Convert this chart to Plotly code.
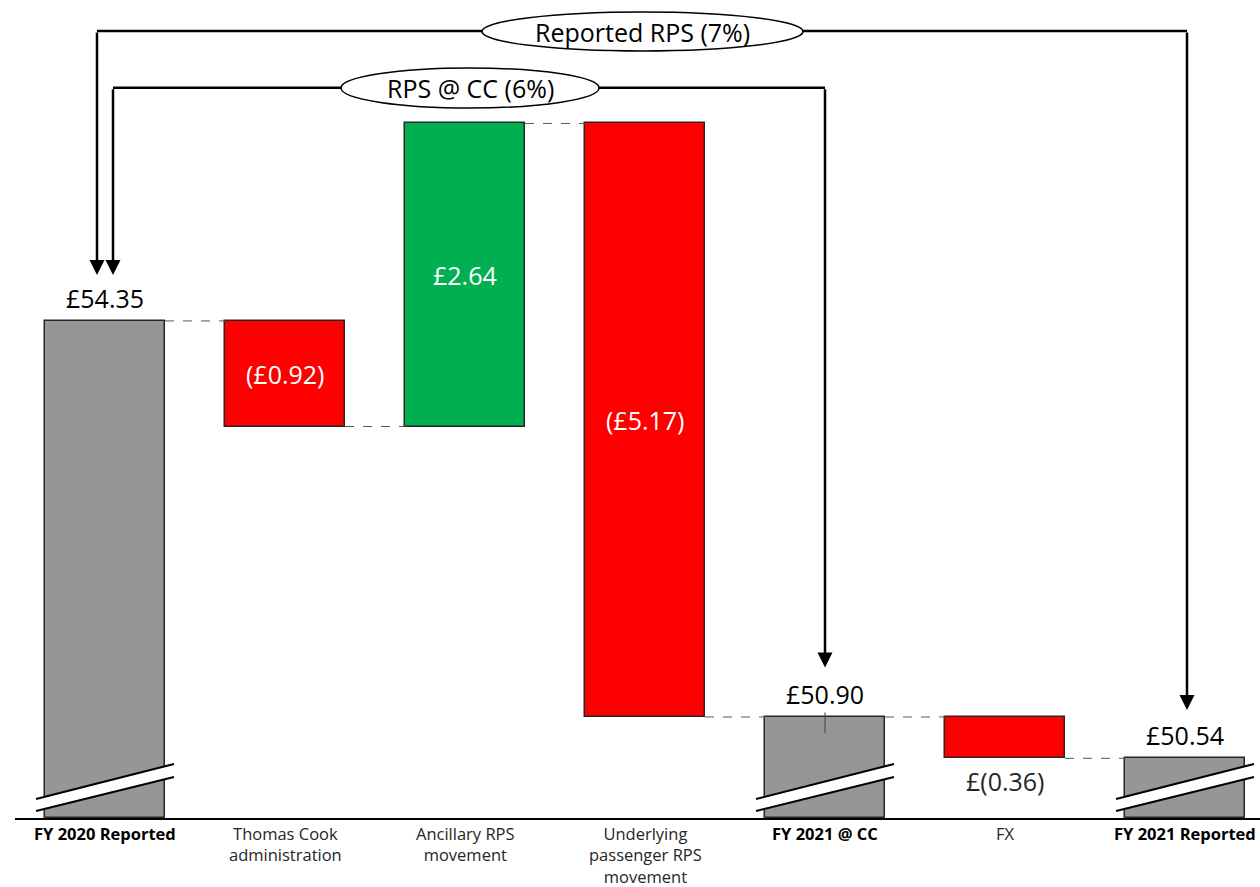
import plotly.graph_objects as go

# ---- data ----
categories = ["FY 2020 Reported", "Thomas Cook administration", "Ancillary RPS movement",
              "Underlying passenger RPS movement", "FY 2021 @ CC", "FX", "FY 2021 Reported"]
tick_labels = ["<b>FY 2020 Reported</b>", "Thomas Cook<br>administration", "Ancillary RPS<br>movement",
               "Underlying<br>passenger RPS<br>movement", "<b>FY 2021 @ CC</b>", "FX", "<b>FY 2021 Reported</b>"]
values = [54.35, -0.92, 2.64, -5.17, 50.90, -0.36, 50.54]
measures = ["total", "relative", "relative", "relative", "total", "relative", "total"]
value_labels = ["£54.35", "(£0.92)", "£2.64", "(£5.17)", "£50.90", "£(0.36)", "£50.54"]
bracket_labels = ["Reported RPS (7%)", "RPS @ CC (6%)"]

# ---- layout geometry ----
W, H = 1260, 887
ML, MB = 15, 69
PX_X = 180.0      # px per category
PX_Y = 114.8      # px per £
Y0 = 50.02
plot_h = H - MB
Y1 = Y0 + plot_h / PX_Y
X0 = -0.5
X1 = X0 + (W - ML) / PX_X


def px2x(p):
    return X0 + (p - ML) / PX_X


def px2y(p):
    return Y0 + (plot_h - p) / PX_Y


GREY = "#969696"
RED = "#FF0000"
GREEN = "#00B050"
FONT = "Open Sans"

# ---- compute waterfall ----
bases, heights, colors, tops, bottoms = [], [], [], [], []
running = 0.0
for v, m in zip(values, measures):
    if m == "total":
        b, t = Y0, v
        running = v
        colors.append(GREY)
    else:
        start, end = running, running + v
        b, t = min(start, end), max(start, end)
        running = end
        colors.append(GREEN if v > 0 else RED)
    bases.append(b)
    heights.append(t - b)
    tops.append(t)
    bottoms.append(b)

xs = list(range(len(categories)))
BW = 2 / 3

fig = go.Figure(go.Bar(
    x=xs, y=heights, base=bases, width=BW,
    marker=dict(color=colors, line=dict(color="#262626", width=1.5)),
    hoverinfo="skip", showlegend=False,
))

shapes = []
annotations = []

# connectors
ends = []
running = 0.0
for v, m in zip(values, measures):
    running = v if m == "total" else running + v
    ends.append(running)
for i in range(len(xs) - 1):
    lvl = ends[i]
    shapes.append(dict(type="line", xref="x", yref="y", x0=i + BW / 2, x1=i + 1 - BW / 2,
                       y0=lvl, y1=lvl, line=dict(color="#595959", width=1, dash="dash")))

# value labels
for i, (v, m, lab) in enumerate(zip(values, measures, value_labels)):
    if m == "total":
        annotations.append(dict(x=i, y=tops[i], xref="x", yref="y", text=lab, showarrow=False,
                                yanchor="bottom", yshift=4,
                                font=dict(family=FONT, size=25, color="#000000", weight=500)))
    elif abs(v) < 0.5:
        annotations.append(dict(x=i, y=bottoms[i], xref="x", yref="y", text=lab, showarrow=False,
                                yanchor="top", yshift=-4,
                                font=dict(family=FONT, size=25, color="#262626")))
    else:
        annotations.append(dict(x=i, y=(tops[i] + bottoms[i]) / 2, xref="x", yref="y", text=lab,
                                showarrow=False, font=dict(family=FONT, size=25, color="#FFFFFF")))

# category labels (as annotations below the axis)
for i, lab in enumerate(tick_labels):
    annotations.append(dict(x=i, y=0, xref="x", yref="paper", text=lab, showarrow=False,
                            yanchor="top", yshift=-2, align="center",
                            font=dict(family=FONT, size=16.5,
                                      color="#000000" if measures[i] == "total" else "#262626")))

# small leader tick on FY 2021 @ CC
shapes.append(dict(type="line", xref="x", yref="y", x0=4, x1=4, y0=tops[4] + 0.04, y1=tops[4] - 0.14,
                   line=dict(color="#404040", width=1)))

# axis-break marks on total bars
for i, m in enumerate(measures):
    if m != "total":
        continue
    xl, xr = i - 0.383, i + 0.383
    ul, ur = px2y(799), px2y(764)
    ll, lr = px2y(811), px2y(777)
    shapes.append(dict(type="path", xref="x", yref="y",
                       path=f"M {xl},{ul} L {xr},{ur} L {xr},{lr} L {xl},{ll} Z",
                       fillcolor="white", line=dict(width=0)))
    shapes.append(dict(type="line", xref="x", yref="y", x0=xl, y0=ul, x1=xr, y1=ur,
                       line=dict(color="black", width=2)))
    shapes.append(dict(type="line", xref="x", yref="y", x0=xl, y0=ll, x1=xr, y1=lr,
                       line=dict(color="black", width=2)))

# brackets with arrows
brackets = [
    # (left x, right x, horizontal y, left tip, right tip, ellipse px box, label)
    (0 - 8 / PX_X, 6 + 2 / PX_X, tops[0] + 2.525, tops[0] + 0.40, tops[6] + 0.42,
     (482, 803, 12, 51), bracket_labels[0]),
    (0 + 8 / PX_X, 4, tops[0] + 2.03, tops[0] + 0.40, tops[4] + 0.43,
     (341, 599, 68, 108), bracket_labels[1]),
]
for xl, xr, yh, tl, tr, (ex0, ex1, ey0, ey1), lab in brackets:
    shapes.append(dict(type="line", xref="x", yref="y", x0=xl, x1=xr, y0=yh, y1=yh,
                       line=dict(color="black", width=2.5)))
    for xx, tip in ((xl, tl), (xr, tr)):
        annotations.append(dict(x=xx, y=tip, ax=xx, ay=yh, xref="x", yref="y", axref="x", ayref="y",
                                text="", showarrow=True, arrowhead=2, arrowsize=1.2, arrowwidth=2.5,
                                arrowcolor="black", standoff=0, startstandoff=0))
    shapes.append(dict(type="circle", xref="x", yref="y", x0=px2x(ex0), x1=px2x(ex1),
                       y0=px2y(ey1), y1=px2y(ey0), fillcolor="white",
                       line=dict(color="black", width=1.5)))
    annotations.append(dict(x=(px2x(ex0) + px2x(ex1)) / 2, y=(px2y(ey0) + px2y(ey1)) / 2,
                            xref="x", yref="y", text=lab, showarrow=False,
                            font=dict(family=FONT, size=25, color="#000000")))

fig.update_layout(
    width=W, height=H,
    margin=dict(l=ML, r=0, t=0, b=MB, autoexpand=False),
    paper_bgcolor="white", plot_bgcolor="white",
    shapes=shapes, annotations=annotations,
    bargap=0,
    xaxis=dict(range=[X0, X1], showticklabels=False, showgrid=False, zeroline=False,
               showline=True, linecolor="black", linewidth=2, ticks="", fixedrange=True,
               automargin=False),
    yaxis=dict(range=[Y0, Y1], visible=False, showgrid=False, zeroline=False, fixedrange=True,
               automargin=False),
)

fig.write_html("out.html", config={"displayModeBar": False})
